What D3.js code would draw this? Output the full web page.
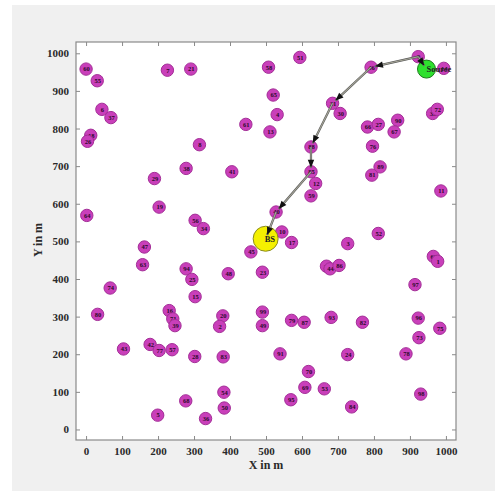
<!DOCTYPE html>
<html>
<head>
<meta charset="utf-8">
<script src="https://cdn.jsdelivr.net/npm/d3@7"></script>
<style>
  body { margin: 0; background: #fff; }
  text { font-family: "Liberation Serif", "DejaVu Serif", serif; }
</style>
</head>
<body>
<div id="cont"></div>
<script>
// data //
var nodeX = [0, 31, 44, 69, 13, 4, 226, 291, 444, 315, 278, 405, 190, 203, 2, 303, 326, 162, 157, 278,
  294, 395, 67, 303, 32, 231, 241, 247, 380, 371, 104, 178, 203, 239, 302, 381, 383, 277, 384, 199,
  332, 594, 507, 792, 923, 994, 520, 531, 511, 685, 706, 782, 812, 866, 856, 963, 976, 625, 796, 625,
  638, 625, 817, 794, 986, 528, 544, 571, 727, 812, 458, 965, 977, 490, 668, 678, 703, 914, 490, 490,
  571, 606, 681, 768, 923, 983, 925, 539, 727, 889, 618, 608, 662, 569, 738, 930];
var nodeY = [958, 927, 851, 829, 782, 766, 955, 958, 811, 757, 694, 685, 667, 591, 569, 556, 534, 485, 438, 427,
  399, 414, 376, 353, 306, 316, 294, 276, 302, 274, 214, 226, 210, 212, 194, 193, 99, 76, 57, 38,
  29, 989, 963, 963, 991, 960, 889, 837, 791, 867, 840, 804, 811, 822, 791, 840, 851, 751, 753, 685,
  654, 621, 698, 676, 634, 578, 525, 497, 494, 521, 472, 460, 447, 418, 434, 427, 436, 385, 312, 276,
  290, 285, 298, 285, 296, 269, 244, 201, 199, 201, 154, 112, 108, 79, 60, 94];
var nodeLabel = ["60", "55", "6", "37", "18", "26", "7", "21", "61", "8", "38", "41", "29", "19", "64", "56", "34", "47", "63", "94",
  "25", "48", "74", "15", "80", "16", "71", "39", "20", "2", "43", "42", "77", "57", "28", "83", "54", "68", "50", "5",
  "36", "51", "58", "46", "9", "14", "65", "4", "13", "31", "30", "66", "27", "90", "67", "35", "72", "88", "76", "85",
  "12", "59", "89", "81", "11", "40", "10", "17", "3", "52", "45", "62", "1", "23", "32", "44", "86", "97", "99", "49",
  "79", "87", "93", "82", "96", "75", "73", "91", "24", "78", "70", "69", "53", "95", "84", "98"];

var sourcePos = [946, 958];
var bsPos = [499, 507];

// hops of the route (x1, y1) -> (x2, y2)
var hopFromX = [923, 923, 792, 685, 625, 625, 528];
var hopFromY = [991, 991, 963, 867, 751, 685, 578];
var hopToX = [946, 792, 685, 625, 625, 528, 499];
var hopToY = [958, 963, 867, 751, 685, 578, 507];

var xTicks = [0, 100, 200, 300, 400, 500, 600, 700, 800, 900, 1000];
var yTicks = [0, 100, 200, 300, 400, 500, 600, 700, 800, 900, 1000];

// SVG Stuff //
var svg = d3.select("#cont").append("svg").attr("width", 495).attr("height", 491);

svg.append("rect").attr("x", 12).attr("y", 5).attr("width", 483).attr("height", 486).attr("fill", "#f0f0f0");

var pLeft = 76, pRight = 456, pTop = 42, pBottom = 440;
var x = d3.scaleLinear().domain([-28, 1028]).range([pLeft, pRight]);
var y = d3.scaleLinear().domain([-28, 1030]).range([pBottom, pTop]);

svg.append("rect").attr("x", pLeft).attr("y", pTop).attr("width", pRight - pLeft).attr("height", pBottom - pTop)
  .attr("fill", "#fff");

// axes, ticks inside on all four sides
var axisStyle = function(g) {
  g.select(".domain").remove();
  g.selectAll(".tick line").attr("stroke", "#8a8a8a");
};
svg.append("g").attr("transform", "translate(0," + pBottom + ")")
  .call(d3.axisBottom(x).tickValues(xTicks).tickSize(-4).tickPadding(7).tickFormat(d3.format("d"))).call(axisStyle);
svg.append("g").attr("transform", "translate(0," + pTop + ")")
  .call(d3.axisTop(x).tickValues(xTicks).tickSize(-4).tickFormat("")).call(axisStyle);
svg.append("g").attr("transform", "translate(" + pLeft + ",0)")
  .call(d3.axisLeft(y).tickValues(yTicks).tickSize(-4).tickPadding(7).tickFormat(d3.format("d"))).call(axisStyle);
svg.append("g").attr("transform", "translate(" + pRight + ",0)")
  .call(d3.axisRight(y).tickValues(yTicks).tickSize(-4).tickFormat("")).call(axisStyle);

svg.selectAll(".tick text").attr("font-family", "Liberation Serif").attr("font-weight", "bold")
  .attr("font-size", 11).attr("fill", "#2a2a2a");

svg.append("rect").attr("x", pLeft).attr("y", pTop).attr("width", pRight - pLeft).attr("height", pBottom - pTop)
  .attr("fill", "none").attr("stroke", "#8a8a8a").attr("stroke-width", 1.2);

svg.append("text").attr("x", 266).attr("y", 469).attr("text-anchor", "middle")
  .attr("font-size", 12).attr("font-weight", "bold").attr("fill", "#2a2a2a").text("X in m");
svg.append("text").attr("transform", "translate(42,240) rotate(-90)").attr("text-anchor", "middle")
  .attr("font-size", 12).attr("font-weight", "bold").attr("fill", "#2a2a2a").text("Y in m");

// nodes
var nodes = svg.append("g").selectAll("g").data(nodeX).enter().append("g")
  .attr("transform", function(d, i) { return "translate(" + x(d) + "," + y(nodeY[i]) + ")"; });
nodes.append("circle").attr("r", 6.2).attr("fill", "#c93fba").attr("stroke", "#a32e97").attr("stroke-width", 1);
nodes.append("text").attr("x", 0.5).attr("y", 2.3).attr("text-anchor", "middle")
  .attr("font-size", 6.5).attr("font-weight", "bold").attr("fill", "#2c0a2a")
  .text(function(d, i) { return nodeLabel[i]; });

// base station
svg.append("circle").attr("cx", x(bsPos[0])).attr("cy", y(bsPos[1])).attr("r", 12.5)
  .attr("fill", "#f4f000").attr("stroke", "#8a8a20").attr("stroke-width", 1);
// source
svg.append("circle").attr("cx", x(sourcePos[0])).attr("cy", y(sourcePos[1])).attr("r", 9)
  .attr("fill", "#2ee02e").attr("stroke", "#1d7a1d").attr("stroke-width", 1);

// route
var hops = svg.append("g");
hopFromX.forEach(function(d, i) {
  var x1 = x(d), y1 = y(hopFromY[i]), x2 = x(hopToX[i]), y2 = y(hopToY[i]);
  var len = Math.sqrt((x2 - x1) * (x2 - x1) + (y2 - y1) * (y2 - y1));
  var ux = (x2 - x1) / len, uy = (y2 - y1) / len;
  var tx = x2 - ux * 4, ty = y2 - uy * 4;
  hops.append("line").attr("x1", x1).attr("y1", y1).attr("x2", tx).attr("y2", ty)
    .attr("stroke", "#555").attr("stroke-width", 2.2);
  hops.append("line").attr("x1", x1).attr("y1", y1).attr("x2", tx).attr("y2", ty)
    .attr("stroke", "#a8a89a").attr("stroke-width", 1.1);
  var bx = tx - ux * 8, by = ty - uy * 8;
  hops.append("path")
    .attr("d", "M" + tx + "," + ty + "L" + (bx - uy * 3.2) + "," + (by + ux * 3.2) + "L" + (bx + uy * 3.2) + "," + (by - ux * 3.2) + "Z")
    .attr("fill", "#111");
});

svg.append("text").attr("x", x(bsPos[0]) - 1).attr("y", y(bsPos[1]) + 3.5)
  .attr("font-size", 8.5).attr("font-weight", "bold").attr("fill", "#222").text("BS");
svg.append("text").attr("x", x(sourcePos[0])).attr("y", y(sourcePos[1]) + 3)
  .attr("font-size", 8.5).attr("font-weight", "bold").attr("fill", "#222").text("Source");
</script>
</body>
</html>
